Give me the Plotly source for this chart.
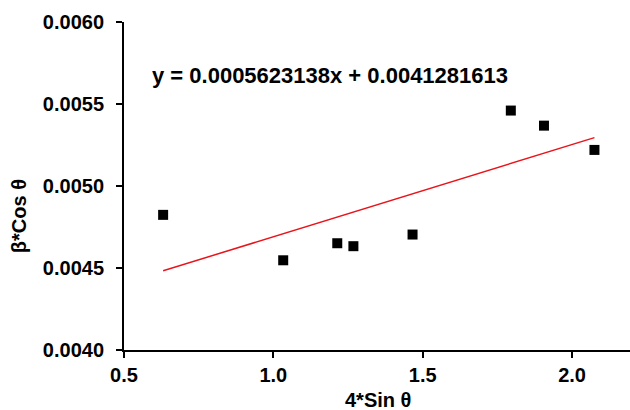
import plotly.graph_objects as go

# Williamson-Hall data: 4*sin(theta) vs beta*cos(theta)
four_sin_theta = [0.631, 1.033, 1.214, 1.268, 1.466, 1.795, 1.906, 2.075]
beta_cos_theta = [0.004824, 0.004547, 0.004651, 0.004633, 0.004704, 0.005460, 0.005368, 0.005220]

# linear fit coefficients shown on the chart
slope = 0.0005623138
intercept = 0.0041281613

x_fit = [min(four_sin_theta), max(four_sin_theta)]
y_fit = [slope * v + intercept for v in x_fit]

FONT = "Liberation Sans, Arial, sans-serif"

fig = go.Figure()
fig.add_trace(go.Scatter(
    x=four_sin_theta, y=beta_cos_theta, mode="markers",
    marker=dict(symbol="square", size=10, color="black"),
    showlegend=False,
))
fig.add_trace(go.Scatter(
    x=x_fit, y=y_fit, mode="lines",
    line=dict(color="#e8141b", width=1.5),
    showlegend=False,
))

fig.update_layout(
    width=630, height=410,
    margin=dict(l=124, r=0, t=22, b=60),
    paper_bgcolor="white", plot_bgcolor="white",
    font=dict(family=FONT, color="black"),
    xaxis=dict(
        range=[0.5, 2.194], tickvals=[0.5, 1.0, 1.5, 2.0], tickformat=".1f",
        showgrid=False, zeroline=False,
        showline=True, linecolor="black", linewidth=2,
        ticks="outside", ticklen=6, tickwidth=2, tickcolor="black",
        tickfont=dict(size=20, family=FONT, weight="bold"),
    ),
    yaxis=dict(
        range=[0.004, 0.006], tickvals=[0.004, 0.0045, 0.005, 0.0055, 0.006], tickformat=".4f",
        showgrid=False, zeroline=False,
        showline=True, linecolor="black", linewidth=2,
        ticks="outside", ticklen=6, tickwidth=2, tickcolor="black",
        ticklabelstandoff=8,
        tickfont=dict(size=20, family=FONT, weight="bold"),
    ),
    annotations=[
        dict(text="y = 0.0005623138x + 0.0041281613", xref="paper", yref="paper",
             x=0.407, y=0.838, showarrow=False, xanchor="center", yanchor="middle",
             font=dict(size=22, family=FONT, weight="bold")),
        dict(text="4*Sin θ", xref="paper", yref="paper",
             x=0.502, y=0, yshift=-50, showarrow=False, yanchor="middle",
             font=dict(size=20, family=FONT, weight="bold")),
        dict(text="β*Cos θ", xref="paper", yref="paper",
             x=0, xshift=-105, y=0.408, showarrow=False, textangle=-90,
             xanchor="center", yanchor="middle",
             font=dict(size=20, family=FONT, weight="bold")),
    ],
)

fig.write_html("out.html")
